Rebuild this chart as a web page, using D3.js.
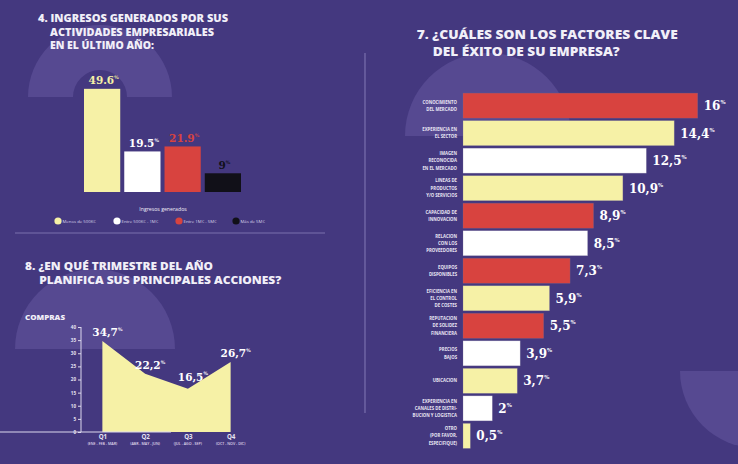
<!DOCTYPE html>
<html><head><meta charset="utf-8">
<script src="https://cdn.jsdelivr.net/npm/d3@7"></script>
<style>
html,body{margin:0;padding:0;background:#44387f;}
svg{display:block;font-family:"Open Sans",sans-serif;}
</style></head>
<body>
<svg id="c" width="738" height="464"></svg>
<script>
// ---------- DATA ----------
const incomeCats = ["Menos de 500K€", "Entre 500K€ - 1M€", "Entre 1M€ - 5M€", "Más de 5M€"];
const incomeVals = [49.6, 19.5, 21.9, 9];
const incomeLabels = ["49.6", "19.5", "21.9", "9"];

const quarters = ["Q1", "Q2", "Q3", "Q4"];
const quarterSub = ["(ENE - FEB - MAR)", "(ABR - MAY - JUN)", "(JUL - AGO - SEP)", "(OCT - NOV - DIC)"];
const quarterVals = [34.7, 22.2, 16.5, 26.7];
const quarterLabels = ["34,7", "22,2", "16,5", "26,7"];
const quarterTicks = [0, 5, 10, 15, 20, 25, 30, 35, 40];

const factorCats = [
  ["CONOCIMIENTO", "DEL MERCADO"],
  ["EXPERIENCIA EN", "EL SECTOR"],
  ["IMAGEN", "RECONOCIDA", "EN EL MERCADO"],
  ["LINEAS DE", "PRODUCTOS", "Y/O SERVICIOS"],
  ["CAPACIDAD DE", "INNOVACION"],
  ["RELACION", "CON LOS", "PROVEEDORES"],
  ["EQUIPOS", "DISPONIBLES"],
  ["EFICIENCIA EN", "EL CONTROL", "DE COSTES"],
  ["REPUTACION", "DE SOLIDEZ", "FINANCIERA"],
  ["PRECIOS", "BAJOS"],
  ["UBICACION"],
  ["EXPERIENCIA EN", "CANALES DE DISTRI-", "BUCION Y LOGISTICA"],
  ["OTRO", "(POR FAVOR,", "ESPECIFIQUE)"]
];
const factorVals = [16, 14.4, 12.5, 10.9, 8.9, 8.5, 7.3, 5.9, 5.5, 3.9, 3.7, 2, 0.5];
const factorLabels = ["16", "14,4", "12,5", "10,9", "8,9", "8,5", "7,3", "5,9", "5,5", "3,9", "3,7", "2", "0,5"];
const factorColorKeys = ["r","y","w","y","r","w","r","y","r","w","y","w","y"];

// ---------- STYLE ----------
const C = {bg:"#44387f", shape:"#564991", y:"#f6f1a6", w:"#ffffff", r:"#d8433f", k:"#111018", txt:"#f1eff8", line:"#7a70ad"};
const incomeColors = [C.y, C.w, C.r, C.k];
const serif = "'DejaVu Serif', serif";
const sans = "'Open Sans', sans-serif";

const svg = d3.select("#c");
svg.append("rect").attr("width",738).attr("height",464).attr("fill",C.bg);

// decorative background shapes
const bgG = svg.append("g").attr("fill", C.shape);
bgG.append("path").attr("transform","translate(100,97)")
  .attr("d", d3.arc().innerRadius(27).outerRadius(72).startAngle(-Math.PI/2).endAngle(Math.PI/2)());
bgG.append("path").attr("transform","translate(95,349)")
  .attr("d", d3.arc().innerRadius(0).outerRadius(80).startAngle(-Math.PI/2).endAngle(Math.PI/2)());
bgG.append("path").attr("transform","translate(488,136)")
  .attr("d", d3.arc().innerRadius(0).outerRadius(83).startAngle(-Math.PI/2).endAngle(Math.PI/2)());
bgG.append("path").attr("transform","translate(757,371)")
  .attr("d", d3.arc().innerRadius(0).outerRadius(77).startAngle(Math.PI/2).endAngle(3*Math.PI/2)());

// separators
svg.append("line").attr("x1",15).attr("x2",325).attr("y1",233).attr("y2",233).attr("stroke",C.line).attr("stroke-width",1.2);
svg.append("line").attr("x1",365).attr("x2",365).attr("y1",53).attr("y2",413).attr("stroke",C.line).attr("stroke-width",1.2);

function title(lines){
  lines.forEach(([t,x,y,len,fs])=>{
    svg.append("text").attr("x",x).attr("y",y).attr("fill",C.txt)
      .style("font-family",sans).attr("font-size",fs).attr("font-weight",800)
      .attr("textLength",len).attr("lengthAdjust","spacingAndGlyphs").text(t);
  });
}
title([
  ["4. INGRESOS GENERADOS POR SUS",38,21.5,190,10],
  ["ACTIVIDADES EMPRESARIALES",50,35.5,164,10],
  ["EN EL ÚLTIMO AÑO:",50,49.3,104,10],
  ["8. ¿EN QUÉ TRIMESTRE DEL AÑO",25,269.5,188,11],
  ["PLANIFICA SUS PRINCIPALES ACCIONES?",39.3,283.5,242,11],
  ["7. ¿CUÁLES SON LOS FACTORES CLAVE",416.7,38.5,261,12.5],
  ["DEL ÉXITO DE SU EMPRESA?",432.7,56,187,12.5]
]);

function valueLabel(g, x, y, num, fs, color, anchor){
  const t = g.append("text").attr("x",x).attr("y",y).attr("fill",color)
    .style("font-family",serif).style("font-weight","bold").attr("font-size",fs)
    .attr("text-anchor",anchor);
  t.append("tspan").text(num);
  t.append("tspan").attr("font-size",fs*0.45).attr("dy",-fs*0.5).text("%");
  return t;
}

// ---------- CHART 4: income bars ----------
const xb = d3.scaleBand().domain(incomeCats).range([84,241]).paddingInner(0.1);
const yb = d3.scaleLinear().domain([0,50]).range([192,88]);
const g4 = svg.append("g");
g4.selectAll("rect").data(incomeVals).join("rect")
  .attr("x",(d,i)=>xb(incomeCats[i])).attr("width",xb.bandwidth())
  .attr("y",d=>yb(d)).attr("height",d=>yb(0)-yb(d))
  .attr("fill",(d,i)=>incomeColors[i]);
incomeVals.forEach((v,i)=>{
  valueLabel(g4, xb(incomeCats[i])+xb.bandwidth()/2+1.5, yb(v)-4.5, incomeLabels[i], 10.5, incomeColors[i], "middle");
});
// legend
g4.append("text").attr("x",163).attr("y",211).attr("text-anchor","middle").attr("fill",C.txt)
  .style("font-family",sans).attr("font-size",5.2).text("Ingresos generados");
const legX = [58,117,179,236];
incomeCats.forEach((c,i)=>{
  g4.append("circle").attr("cx",legX[i]).attr("cy",221).attr("r",3.6).attr("fill",incomeColors[i]);
  g4.append("text").attr("x",legX[i]+4.5).attr("y",222.6).attr("fill","#d9d5ea")
    .style("font-family",sans).attr("font-size",4.3).text(c);
});

// ---------- CHART 8: area ----------
const xq = d3.scalePoint().domain(quarters).range([81,252]).padding(0.5);
const yq = d3.scaleLinear().domain([0,40]).range([432,327]);
const g8 = svg.append("g");
g8.append("text").attr("x",25).attr("y",320).attr("fill",C.txt).style("font-family",sans)
  .attr("font-size",6.2).attr("font-weight",800)
  .attr("textLength",40).attr("lengthAdjust","spacingAndGlyphs").text("COMPRAS");
const area = d3.area().x((d,i)=>xq(quarters[i])).y0(yq(0)).y1(d=>yq(d));
g8.append("path").datum(quarterVals).attr("d",area).attr("fill",C.y);
const ya = g8.append("g").attr("transform","translate(81,0)")
  .call(d3.axisLeft(yq).tickValues(quarterTicks).tickSize(3).tickPadding(2));
const xa = g8.append("g").attr("transform","translate(0,432)")
  .call(d3.axisBottom(xq).tickSize(0).tickPadding(3));
[ya,xa].forEach(a=>{
  a.select(".domain").attr("stroke","#dcd8ee").attr("stroke-width",1);
  a.selectAll(".tick line").attr("stroke","#dcd8ee");
  a.selectAll("text").attr("fill","#e6e3f2").style("font-family",sans);
});
ya.selectAll("text").attr("font-size",4.5).attr("font-weight",700);
ya.select(".domain").attr("d","M0,"+yq(40)+"V"+yq(0));
xa.select(".domain").attr("d","M0,0H171");
xa.selectAll(".tick text").attr("font-size",6.2).attr("font-weight",700);
quarters.forEach((q,i)=>{
  g8.append("text").attr("x",xq(q)).attr("y",444.5).attr("text-anchor","middle")
    .attr("fill","#e0ddef").style("font-family",sans).attr("font-size",3.6).attr("font-weight",600)
    .text(quarterSub[i]);
});
quarterVals.forEach((v,i)=>{
  valueLabel(g8, xq(quarters[i])+5, yq(v)-(i===2?8:4.5), quarterLabels[i], 10.5, C.w, "middle");
});

// ---------- CHART 7: factors ----------
const yf = d3.scaleBand().domain(d3.range(factorVals.length)).range([92,449.5]).paddingInner(0.09).paddingOuter(0.04);
const xf = d3.scaleLinear().domain([0,16]).range([463,697.7]);
const g7 = svg.append("g");
g7.selectAll("rect").data(factorVals).join("rect")
  .attr("x",xf(0)).attr("y",(d,i)=>yf(i)).attr("height",yf.bandwidth())
  .attr("width",d=>xf(d)-xf(0)).attr("fill",(d,i)=>C[factorColorKeys[i]])
  .attr("stroke","rgba(120,110,150,0.45)").attr("stroke-width",0.6);
factorCats.forEach((lines,i)=>{
  const cy = yf(i)+yf.bandwidth()/2;
  const lh = 7.3;
  const t = g7.append("text").attr("text-anchor","end").attr("fill","#e9e6f4")
    .style("font-family",sans).attr("font-size",4.3).attr("font-weight",700);
  lines.forEach((l,j)=>{
    t.append("tspan").attr("x",457).attr("y",cy-(lines.length-1)*lh/2+j*lh+1.6).text(l);
  });
  valueLabel(g7, xf(factorVals[i])+6, cy+4.5, factorLabels[i], 12, C.w, "start");
});
</script>
</body></html>
